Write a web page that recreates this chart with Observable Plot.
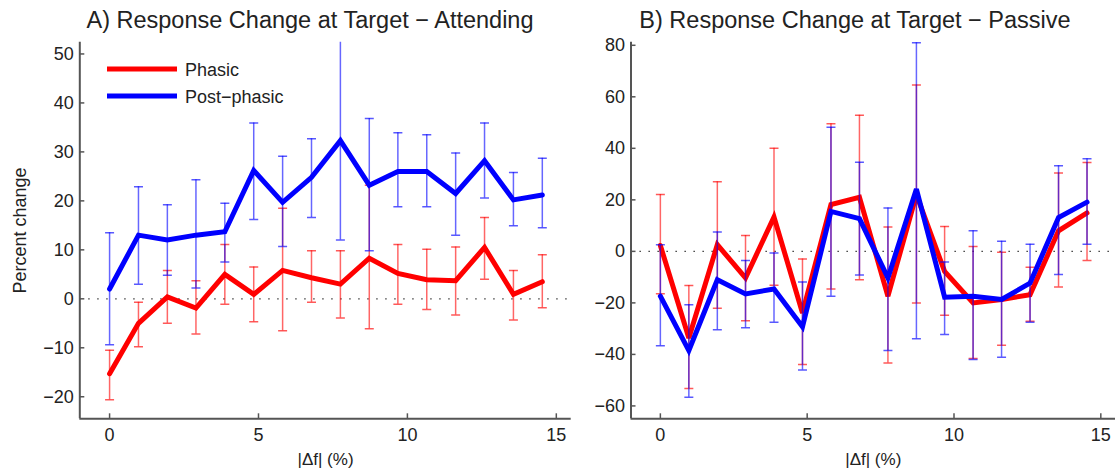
<!DOCTYPE html>
<html><head><meta charset="utf-8">
<script src="https://cdn.jsdelivr.net/npm/d3@7"></script>
<script src="https://cdn.jsdelivr.net/npm/@observablehq/plot@0.6"></script>
<style>
body{margin:0;background:#fff;}
#wrap{position:relative;width:1117px;height:470px;font-family:"Liberation Sans",Arial,sans-serif;color:#222;overflow:hidden}
.panel{position:absolute;top:0}
.title{position:absolute;top:9px;font-size:23.5px;line-height:1;white-space:nowrap;transform:translateX(-50%)}
.legend{position:absolute;left:0;top:0}
</style></head><body>
<div id="wrap"></div>
<script>
// |Δf| (%) positions
const deltaF = [0, 0.97, 1.94, 2.9, 3.87, 4.84, 5.81, 6.78, 7.75, 8.72, 9.68, 10.65, 11.62, 12.59, 13.56, 14.53];
const seriesNames = ["Phasic", "Post\u2212phasic"];
const seriesColors = ["#ff0000", "#0000ff"];

// Panel A: Attending
const phasicA   = [-15.3, -5.0, 0.4, -1.9, 5.0, 0.9, 5.8, 4.3, 3.0, 8.3, 5.2, 3.9, 3.7, 10.5, 0.9, 3.5];
const phasicALo = [-20.6, -9.8, -5.0, -7.2, -1.1, -4.7, -6.5, -0.7, -3.9, -6.1, -1.1, -2.2, -3.3, 4.0, -4.3, -1.8];
const phasicAHi = [-10.5, -0.7, 5.8, 3.7, 11.1, 6.5, 18.5, 9.8, 9.8, 23.2, 11.1, 10.1, 10.6, 16.6, 5.8, 9.0];
const postA     = [2.0, 13.0, 12.0, 13.0, 13.7, 26.2, 19.7, 24.8, 32.3, 23.2, 26.0, 26.0, 21.5, 28.2, 20.2, 21.2];
const postALo   = [-9.4, 3.0, 4.8, 2.2, 7.5, 16.2, 10.7, 16.6, 12.0, 9.8, 18.8, 18.8, 13.0, 20.6, 14.9, 14.5];
const postAHi   = [13.5, 22.9, 19.2, 24.3, 19.5, 35.9, 29.1, 32.7, 58.0, 36.8, 33.9, 33.5, 29.8, 35.9, 25.8, 28.7];

// Panel B: Passive
const phasicB   = [2.3, -33.6, 2.6, -10.3, 13.3, -23.9, 18.2, 21.0, -17.4, 22.0, -7.8, -20.0, -18.7, -16.8, 8.0, 14.9];
const phasicBLo = [-16.5, -53.2, -22.1, -26.9, -13.2, -43.9, -14.6, -11.0, -43.3, -20.0, -24.8, -41.6, -36.4, -27.1, -13.8, -3.5];
const phasicBHi = [22.1, -13.3, 27.0, 6.2, 40.0, -3.0, 49.5, 52.8, 9.5, 64.6, 9.7, 1.9, -0.3, -6.2, 30.4, 34.5];
const postB     = [-17.4, -38.5, -11.0, -16.5, -14.6, -29.3, 15.5, 12.7, -10.3, 24.2, -17.8, -17.4, -18.7, -12.3, 13.1, 19.1];
const postBLo   = [-36.6, -56.6, -30.4, -29.7, -27.5, -46.1, -17.4, -9.2, -38.5, -33.9, -32.3, -42.0, -41.1, -27.5, -9.0, 2.8];
const postBHi   = [2.6, -20.7, 7.5, -3.5, -0.6, -11.9, 48.2, 34.6, 16.8, 81.0, -4.1, 8.0, 3.9, 2.8, 33.2, 36.0];

const xTicks = [0, 5, 10, 15];
const yTicksA = [-20, -10, 0, 10, 20, 30, 40, 50];
const yTicksB = [-60, -40, -20, 0, 20, 40, 60, 80];
const titleA = "A) Response Change at Target \u2212 Attending";
const titleB = "B) Response Change at Target \u2212 Passive";
const xLabel = "|\u0394f| (%)";
const yLabel = "Percent change";

const xDomain = [-1, 15.5];
const yDomainA = [-24.5, 52.4];
const yDomainB = [-65, 81.2];

function rows(mean, lo, hi, k) {
  return deltaF.map((x, i) => ({x, mean: mean[i], lo: lo[i], hi: hi[i], s: seriesNames[k]}));
}

const cap = {draw(ctx) { ctx.moveTo(-4.5, 0); ctx.lineTo(4.5, 0); }};

function panel({width, ml, mr, yDomain, yTicks, data, showYLabel}) {
  const H = 470, mt = 41.7, mb = 51.7;
  const innerH = H - mt - mb, innerW = width - ml - mr;
  const marks = [
    Plot.ruleY([0], {stroke: "#222", strokeDasharray: "1.3,7.7", strokeWidth: 1.3})
  ];
  data.forEach((d, k) => {
    const col = seriesColors[k];
    marks.push(
      Plot.ruleX(d, {x: "x", y1: "lo", y2: "hi", stroke: col, strokeOpacity: 0.6, strokeWidth: 1.5, clip: true}),
      Plot.dot(d, {x: "x", y: "lo", symbol: cap, r: 4, stroke: col, strokeOpacity: 0.65, strokeWidth: 1.5, fill: "none", clip: true}),
      Plot.dot(d, {x: "x", y: "hi", symbol: cap, r: 4, stroke: col, strokeOpacity: 0.65, strokeWidth: 1.5, fill: "none", clip: true}),
      Plot.line(d, {x: "x", y: "mean", stroke: col, strokeWidth: 5, strokeLinejoin: "miter", strokeMiterlimit: 3})
    );
  });
  marks.push(
    Plot.ruleX([xDomain[0]], {stroke: "#555", strokeWidth: 2}),
    Plot.ruleY([yDomain[0]], {stroke: "#555", strokeWidth: 2}),
    Plot.tickX(xTicks, {x: d => d, insetTop: innerH - 5, stroke: "#555", strokeWidth: 1.5}),
    Plot.tickY(yTicks, {y: d => d, insetRight: innerW - 5, stroke: "#555", strokeWidth: 1.5}),
    Plot.axisX(xTicks, {tickSize: 0, tickPadding: 9, label: null, fontSize: 18, fill: "#222"}),
    Plot.axisY(yTicks, {tickSize: 0, tickPadding: 6, label: null, fontSize: 18, fill: "#222", tickFormat: d => String(d).replace("-", "\u2212")}),
    Plot.text([xLabel], {text: d => d, frameAnchor: "bottom", lineAnchor: "middle", textAnchor: "middle", dy: 41, fontSize: 17, fill: "#222"})
  );
  if (showYLabel) marks.push(Plot.text([yLabel], {text: d => d, frameAnchor: "left", lineAnchor: "middle", textAnchor: "middle", rotate: -90, dx: -60, fontSize: 18, fill: "#222"}));
  return Plot.plot({
    width, height: H, marginLeft: ml, marginRight: mr, marginTop: mt, marginBottom: mb,
    style: {fontFamily: "'Liberation Sans', Arial, sans-serif", fontSize: "18px", color: "#222", background: "transparent", overflow: "visible"},
    x: {domain: xDomain}, y: {domain: yDomain},
    marks
  });
}

const wrap = document.getElementById("wrap");
const pA = panel({width: 575, ml: 79.3, mr: 4.3, yDomain: yDomainA, yTicks: yTicksA,
  data: [rows(phasicA, phasicALo, phasicAHi, 0), rows(postA, postALo, postAHi, 1)], showYLabel: true});
pA.classList.add("panel"); pA.style.left = "0px";
const pB = panel({width: 542, ml: 55.5, mr: 2, yDomain: yDomainB, yTicks: yTicksB,
  data: [rows(phasicB, phasicBLo, phasicBHi, 0), rows(postB, postBLo, postBHi, 1)], showYLabel: false});
pB.classList.add("panel"); pB.style.left = "575px";
wrap.appendChild(pA); wrap.appendChild(pB);

[[titleA, 310], [titleB, 855]].forEach(([t, cx]) => {
  const d = document.createElement("div");
  d.className = "title"; d.textContent = t; d.style.left = cx + "px";
  wrap.appendChild(d);
});

// legend inside panel A
const ns = "http://www.w3.org/2000/svg";
const lg = document.createElementNS(ns, "svg");
lg.setAttribute("class", "legend"); lg.setAttribute("width", 300); lg.setAttribute("height", 120);
seriesNames.forEach((name, i) => {
  const y = 69 + i * 27;
  const ln = document.createElementNS(ns, "line");
  ln.setAttribute("x1", 107); ln.setAttribute("x2", 177); ln.setAttribute("y1", y); ln.setAttribute("y2", y);
  ln.setAttribute("stroke", seriesColors[i]); ln.setAttribute("stroke-width", 5);
  lg.appendChild(ln);
  const tx = document.createElementNS(ns, "text");
  tx.setAttribute("x", 185); tx.setAttribute("y", y + 6.5);
  tx.setAttribute("font-size", 18); tx.setAttribute("fill", "#222");
  tx.setAttribute("font-family", "'Liberation Sans', Arial, sans-serif");
  tx.textContent = name;
  lg.appendChild(tx);
});
wrap.appendChild(lg);
</script>
</body></html>
